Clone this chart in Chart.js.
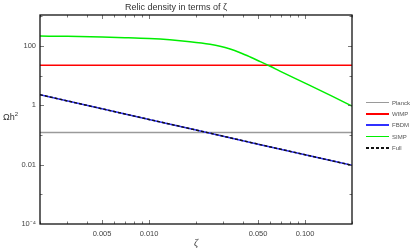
<!DOCTYPE html>
<html>
<head>
<meta charset="utf-8">
<script src="https://cdn.jsdelivr.net/npm/chart.js@4.4.0/dist/chart.umd.min.js"></script>
<style>
  html, body { margin: 0; padding: 0; background: #fff; }
  #wrap { position: relative; width: 415px; height: 252px; font-family: 'Liberation Sans', Arial, sans-serif; }
  #relic-chart { position: absolute; left: 0; top: 0; }
  #ytitle { position: absolute; left: 3px; top: 112px; font-size: 9px; color: #333; }
  #ytitle sup { font-size: 6px; vertical-align: 4px; line-height: 0; }
  #legend { position: absolute; left: 366px; top: 97px; font-size: 6px; color: #555; }
  .legend-item { display: flex; align-items: center; height: 11.3px; }
  .legend-line { display: inline-block; width: 23px; height: 1.6px; margin-right: 3px; }
</style>
</head>
<body>
<div id="wrap">
  <canvas id="relic-chart" width="415" height="252"></canvas>
  <div id="ytitle">Ωh<sup>2</sup></div>
  <div id="legend"></div>
</div>
<script>
// ─── data ───────────────────────────────
const ZETA_RANGE = [0.002, 0.2];
const PLANCK = 0.12;
const WIMP = 22.5;

const ZETA_SIMP = [0.002, 0.003, 0.005, 0.007, 0.01, 0.0136, 0.0183, 0.0246, 0.0285, 0.0331, 0.0384, 0.0445, 0.0516, 0.0598, 0.069, 0.1, 0.15, 0.2];
const SIMP = [215, 210, 200, 190, 177, 160, 138, 113, 97.7, 78.7, 59, 42.3, 29.6, 20.6, 14.2, 5.6, 2.0, 0.94];

const ZETA_FBDM = [0.002, 0.005, 0.01, 0.02, 0.05, 0.1, 0.2];
const FBDM = [2.27, 0.76, 0.334, 0.147, 0.049, 0.0216, 0.0095];
const FULL = [2.27, 0.76, 0.334, 0.147, 0.049, 0.0216, 0.0095];

const X_MAJOR = [0.005, 0.01, 0.05, 0.1];
const X_LABELS = ['0.005', '0.010', '0.050', '0.100'];
const X_MINOR = [0.002, 0.003, 0.004, 0.006, 0.007, 0.008, 0.009, 0.02, 0.03, 0.04, 0.06, 0.07, 0.08, 0.09, 0.2];
const Y_MAJOR = [1e-4, 0.01, 1, 100];
const Y_LABELS = ['10⁻⁴', '0.01', '1', '100'];
const Y_MINOR = [1e-3, 0.1, 10, 1000];
const Y_RANGE = [1e-4, 1100];

const SERIES = [
  { label: 'Planck', color: '#9a9a9a' },
  { label: 'WIMP',   color: '#ff0000' },
  { label: 'FBDM',   color: '#3030ff' },
  { label: 'SIMP',   color: '#00ee00' },
  { label: 'Full',   color: '#111111', dash: true }
];

const pts = (xs, ys) => xs.map((x, i) => ({ x: x, y: ys[i] }));
const flat = v => ZETA_RANGE.map(x => ({ x: x, y: v }));

const TICK_FONT = { family: "'Liberation Sans', Arial, sans-serif", size: 7.5 };

// frame + inward ticks on all four sides
const framePlugin = {
  id: 'frame',
  afterDatasetsDraw(chart) {
    const { ctx, chartArea: a, scales } = chart;
    ctx.save();
    ctx.strokeStyle = '#555';
    ctx.lineWidth = 0.8;
    const tickX = (vals, len) => vals.forEach(v => {
      const px = Math.round(scales.x.getPixelForValue(v)) + 0.5;
      ctx.beginPath();
      ctx.moveTo(px, a.bottom); ctx.lineTo(px, a.bottom - len);
      ctx.moveTo(px, a.top); ctx.lineTo(px, a.top + len);
      ctx.stroke();
    });
    const tickY = (vals, len) => vals.forEach(v => {
      const py = Math.round(scales.y.getPixelForValue(v)) + 0.5;
      if (py < a.top || py > a.bottom) return;
      ctx.beginPath();
      ctx.moveTo(a.left, py); ctx.lineTo(a.left + len, py);
      ctx.moveTo(a.right, py); ctx.lineTo(a.right - len, py);
      ctx.stroke();
    });
    tickX(X_MAJOR, 4); tickX(X_MINOR, 2.5);
    tickY(Y_MAJOR, 4); tickY(Y_MINOR, 2.5);
    ctx.strokeStyle = '#111';
    ctx.lineWidth = 1.3;
    ctx.strokeRect(a.left, a.top, a.right - a.left, a.bottom - a.top);
    ctx.restore();
  }
};

function lineDataset(s, data, order) {
  return {
    label: s.label,
    data: data,
    borderColor: s.color,
    borderWidth: 1.5,
    borderDash: s.dash ? [3, 2] : [],
    pointRadius: 0,
    fill: false,
    cubicInterpolationMode: s.label === 'SIMP' ? 'monotone' : 'default',
    tension: 0,
    order: order
  };
}

const chart = new Chart(document.getElementById('relic-chart').getContext('2d'), {
  type: 'line',
  data: {
    datasets: [
      lineDataset(SERIES[4], pts(ZETA_FBDM, FULL), 0),
      lineDataset(SERIES[2], pts(ZETA_FBDM, FBDM), 1),
      lineDataset(SERIES[3], pts(ZETA_SIMP, SIMP), 2),
      lineDataset(SERIES[1], flat(WIMP), 3),
      lineDataset(SERIES[0], flat(PLANCK), 4)
    ]
  },
  options: {
    responsive: false,
    animation: false,
    layout: { padding: { left: 0, right: 63, top: 0, bottom: 0 } },
    plugins: {
      legend: { display: false },
      tooltip: { enabled: false },
      title: {
        display: true,
        text: 'Relic density in terms of ζ',
        color: '#333',
        font: { family: "'Liberation Sans', Arial, sans-serif", size: 9, weight: 'normal', lineHeight: 1.2 },
        padding: { top: 2, bottom: 2.2 }
      }
    },
    scales: {
      x: {
        type: 'logarithmic',
        min: ZETA_RANGE[0],
        max: ZETA_RANGE[1],
        afterBuildTicks: s => { s.ticks = X_MAJOR.map(v => ({ value: v })); },
        afterFit: s => { s.height = 28; },
        ticks: {
          autoSkip: false, maxRotation: 0, padding: 5, color: '#444', font: TICK_FONT,
          callback: (v, i) => X_LABELS[i]
        },
        grid: { display: false, drawTicks: false },
        border: { display: false },
        title: {
          display: true, text: 'ζ', color: '#333',
          font: { family: "'Liberation Serif', serif", size: 10, style: 'italic' },
          padding: { top: 2, bottom: 3 }
        }
      },
      y: {
        type: 'logarithmic',
        min: Y_RANGE[0],
        max: Y_RANGE[1],
        afterBuildTicks: s => { s.ticks = Y_MAJOR.map(v => ({ value: v })); },
        afterFit: s => { s.width = 40; },
        ticks: {
          autoSkip: false, padding: 4, color: '#444', font: TICK_FONT,
          callback: (v, i) => Y_LABELS[i]
        },
        grid: { display: false, drawTicks: false },
        border: { display: false }
      }
    }
  },
  plugins: [framePlugin]
});

const legendEl = document.getElementById('legend');
legendEl.innerHTML = SERIES.map(s => {
  const bg = s.dash
    ? `repeating-linear-gradient(90deg, ${s.color} 0 3px, transparent 3px 5px)`
    : s.color;
  return `<div class="legend-item"><span class="legend-line" style="background:${bg};"></span>${s.label}</div>`;
}).join('');
</script>
</body>
</html>
